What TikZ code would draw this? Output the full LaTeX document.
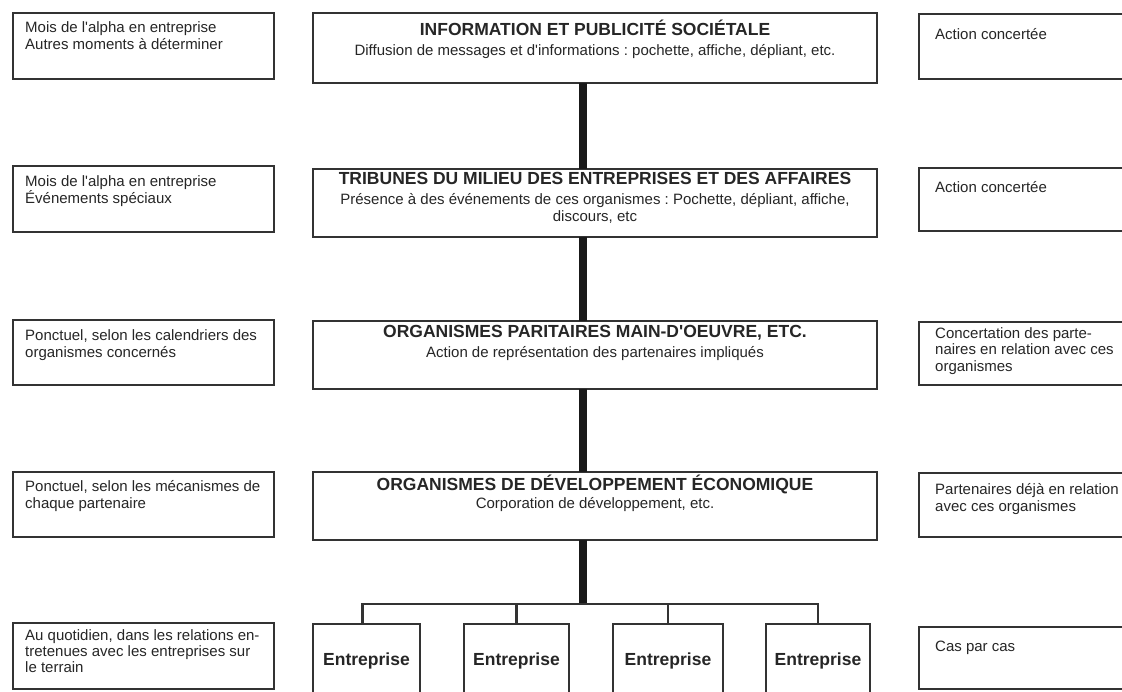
\documentclass[tikz,border=0pt]{standalone}
\usepackage{fontspec}
\setmainfont{Liberation Sans}[Ligatures=TeXOff]
\frenchspacing
\begin{document}
\begin{tikzpicture}[x=1pt,y=-1pt,
  box/.style={draw=black!80, line width=1.3pt, inner sep=0pt, outer sep=0pt, anchor=north west},
  small/.style={font=\fontsize{15}{17}\selectfont, align=left, inner sep=0pt, anchor=north west, text=black!85,
                execute at begin node={\rule{0pt}{14pt}}},
  ttl/.style={font=\fontsize{17.5}{20}\selectfont\bfseries, inner sep=0pt, anchor=base, text=black!85},
  sub/.style={font=\fontsize{15}{17.5}\selectfont, align=center, inner sep=0pt, anchor=north, text=black!85,
                execute at begin node={\rule{0pt}{14pt}}},
  ent/.style={font=\fontsize{17.5}{20}\selectfont\bfseries, inner sep=0pt, anchor=base, text=black!85},
  bar/.style={line width=8pt, black!90},
  branch/.style={line width=2.2pt, black!80}
]
\useasboundingbox (0,0) rectangle (1122,691);
\fill[white] (0,0) rectangle (1122,691);
\clip (0,0) rectangle (1122,691);

% ---------- left column ----------
\node[box, minimum width=261pt, minimum height=66pt] (l1) at (13,13) {};
\node[box, minimum width=261pt, minimum height=66pt] (l2) at (13,166) {};
\node[box, minimum width=261pt, minimum height=65pt] (l3) at (13,320) {};
\node[box, minimum width=261pt, minimum height=65pt] (l4) at (13,472) {};
\node[box, minimum width=261pt, minimum height=66pt] (l5) at (13,623) {};

\node[small] (lt1) at (25,21) {Mois de l'alpha en entreprise\\Autres moments à déterminer};
\node[small] (lt2) at (25,175) {Mois de l'alpha en entreprise\\Événements spéciaux};
\node[small] (lt3) at (25,329) {Ponctuel, selon les calendriers des\\organismes concernés};
\node[small] (lt4) at (25,480) {Ponctuel, selon les mécanismes de\\chaque partenaire};
\node[small, font=\fontsize{15}{16}\selectfont] (lt5) at (25,629) {Au quotidien, dans les relations en-\\tretenues avec les entreprises sur\\le terrain};

% ---------- right column ----------
\node[box, minimum width=300pt, minimum height=65pt] (r1) at (919,14) {};
\node[box, minimum width=300pt, minimum height=63pt] (r2) at (919,168) {};
\node[box, minimum width=300pt, minimum height=63pt] (r3) at (919,322) {};
\node[box, minimum width=300pt, minimum height=64pt] (r4) at (919,473) {};
\node[box, minimum width=300pt, minimum height=62pt] (r5) at (919,627) {};

\node[small] (rt1) at (935,25) {Action concertée};
\node[small] (rt2) at (935,178) {Action concertée};
\node[small, font=\fontsize{15}{16.5}\selectfont] (rt3) at (935,327) {Concertation des parte-\\naires en relation avec ces\\organismes};
\node[small] (rt4) at (935,483) {Partenaires déjà en relation\\avec ces organismes};
\node[small] (rt5) at (935,637) {Cas par cas};

% ---------- centre column ----------
\node[box, minimum width=564pt, minimum height=70pt] (c1) at (313,13) {};
\node[box, minimum width=564pt, minimum height=68pt] (c2) at (313,169) {};
\node[box, minimum width=564pt, minimum height=68pt] (c3) at (313,321) {};
\node[box, minimum width=564pt, minimum height=68pt] (c4) at (313,472) {};

\node[ttl] (ct1) at (595,35) {INFORMATION ET PUBLICITÉ SOCIÉTALE};
\node[sub] (cs1) at (595,41) {Diffusion de messages et d'informations : pochette, affiche, dépliant, etc.};
\node[ttl] (ct2) at (595,184) {TRIBUNES DU MILIEU DES ENTREPRISES ET DES AFFAIRES};
\node[sub] (cs2) at (595,193) {Présence à des événements de ces organismes : Pochette, dépliant, affiche,\\discours, etc};
\node[ttl] (ct3) at (595,337) {ORGANISMES PARITAIRES MAIN-D'OEUVRE, ETC.};
\node[sub] (cs3) at (595,343) {Action de représentation des partenaires impliqués};
\node[ttl] (ct4) at (595,490) {ORGANISMES DE DÉVELOPPEMENT ÉCONOMIQUE};
\node[sub] (cs4) at (595,494) {Corporation de développement, etc.};

% ---------- entreprises ----------
\node[box, minimum width=107pt, minimum height=90pt] (e1) at (313,624) {};
\node[box, minimum width=105pt, minimum height=90pt] (e2) at (464,624) {};
\node[box, minimum width=110pt, minimum height=90pt] (e3) at (613,624) {};
\node[box, minimum width=104pt, minimum height=90pt] (e4) at (766,624) {};
\node[ent] (et1) at ([yshift=-41pt]e1.north) {Entreprise};
\node[ent] (et2) at ([yshift=-41pt]e2.north) {Entreprise};
\node[ent] (et3) at ([yshift=-41pt]e3.north) {Entreprise};
\node[ent] (et4) at ([yshift=-41pt]e4.north) {Entreprise};

% ---------- connectors ----------
\coordinate (bx) at (582.5,0);
\coordinate (hb) at (0,604);
\draw[bar] (c1.south -| bx) -- (c2.north -| bx);
\draw[bar] (c2.south -| bx) -- (c3.north -| bx);
\draw[bar] (c3.south -| bx) -- (c4.north -| bx);
\draw[bar] (c4.south -| bx) -- ([yshift=1pt]bx |- hb);

\draw[branch] ([xshift=-4pt]e1.north) -- ([xshift=-4pt]e1.north |- hb) -- (e4.north |- hb) -- (e4.north);
\draw[branch] (e2.north |- hb) -- (e2.north);
\draw[branch] (e3.north |- hb) -- (e3.north);
\end{tikzpicture}
\end{document}
